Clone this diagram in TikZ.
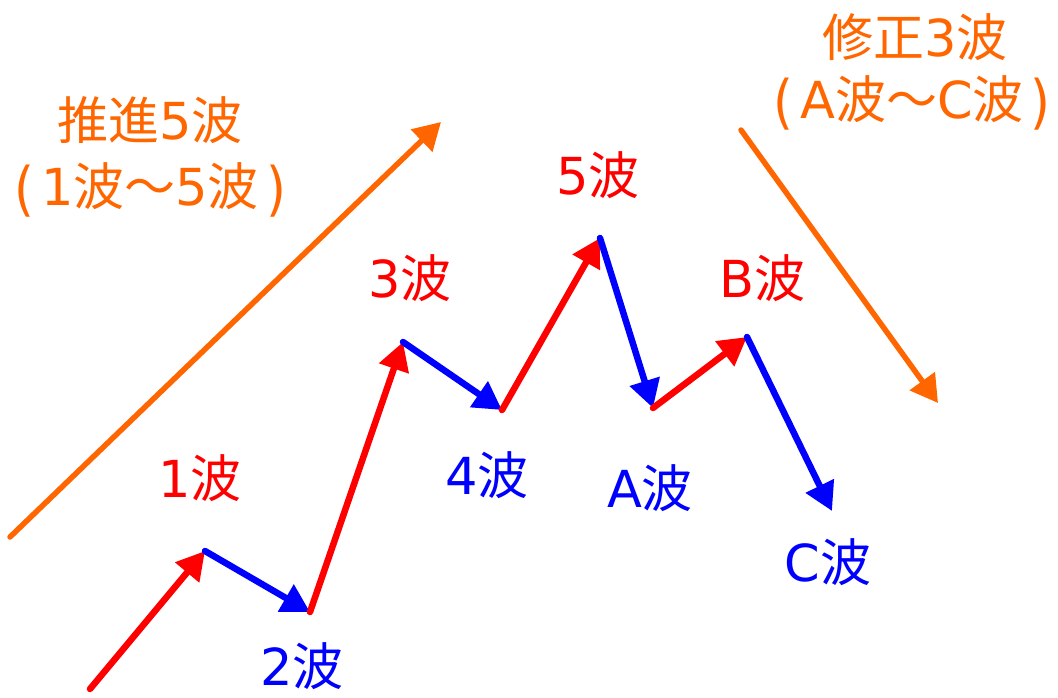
\documentclass[tikz,border=0pt]{standalone}
\usepackage{fontspec}
\usepackage{graphicx}
\setmainfont{DejaVu Sans}
\newfontfamily\cjk{Noto Sans CJK JP}
\usetikzlibrary{arrows.meta}
\definecolor{wred}{HTML}{FF0000}
\definecolor{wblue}{HTML}{0000FF}
\definecolor{worange}{HTML}{FF6600}
\newcommand{\ha}{{\cjk 波}}
\newcommand{\lpar}{\kern0.08em\raisebox{-0.08em}{\scalebox{1}[1.15]{(}}\kern0.14em}
\newcommand{\rpar}{\kern0.14em\raisebox{-0.08em}{\scalebox{1}[1.15]{)}}\kern0.08em}
\tikzset{
  wave/.style={line width=6.5pt, line cap=round, -{Triangle[length=28pt,width=30pt]}},
  upw/.style={wave, draw=wred, fill=wred},
  downw/.style={wave, draw=wblue, fill=wblue},
  trend/.style={line width=5.5pt, line cap=round, draw=worange, -{Triangle[length=27pt,width=30pt]}, fill=worange},
  lab/.style={inner sep=0pt, font=\fontsize{51}{60}\selectfont},
  redlab/.style={lab, text=wred},
  bluelab/.style={lab, text=wblue},
  oralab/.style={lab, text=worange, align=center}
}
\begin{document}
\begin{tikzpicture}[x=1pt,y=-1pt]
\useasboundingbox (0,0) rectangle (1058,697);
\coordinate (p0) at (90,689);
\coordinate (p1) at (205,551);
\coordinate (p2) at (310,612);
\coordinate (p3) at (403,342);
\coordinate (p4) at (502,410);
\coordinate (p5) at (600,238);
\coordinate (pa) at (653,408);
\coordinate (pb) at (747,337);
\coordinate (pc) at (832,511);
\coordinate (t0) at (10,537);
\coordinate (t1) at (441,122);
\coordinate (s0) at (741,130);
\coordinate (s1) at (938,403);

\draw[upw] (p0) -- (p1);
\draw[downw] (p1) -- (p2);
\draw[upw] (p2) -- (p3);
\draw[downw] (p3) -- (p4);
\draw[upw] (p4) -- (p5);
\draw[downw] (p5) -- (pa);
\draw[upw] (pa) -- (pb);
\draw[downw] (pb) -- (pc);

\draw[trend] (t0) -- (t1);
\draw[trend] (s0) -- (s1);

\node[redlab] (l1) at (200,478) {1\ha};
\node[bluelab] (l2) at (302,666) {2\ha};
\node[redlab] (l3) at (410,278) {3\ha};
\node[bluelab] (l4) at (487,475) {4\ha};
\node[redlab] (l5) at (598,175) {5\ha};
\node[bluelab] (la) at (650,488) {A\ha};
\node[redlab] (lb) at (762,278) {B\ha};
\node[bluelab] (lc) at (828,562) {C\ha};

\node[oralab] (imp1) at (150,120) {{\cjk 推進}5\ha};
\node[oralab] (imp2) at (150,190) {\lpar 1\ha{\cjk ～}5\ha\rpar};
\node[oralab] (cor1) at (915,37) {{\cjk 修正}3\ha};
\node[oralab] (cor2) at (912,103) {\lpar A\ha{\cjk ～}C\ha\rpar};
\end{tikzpicture}
\end{document}
